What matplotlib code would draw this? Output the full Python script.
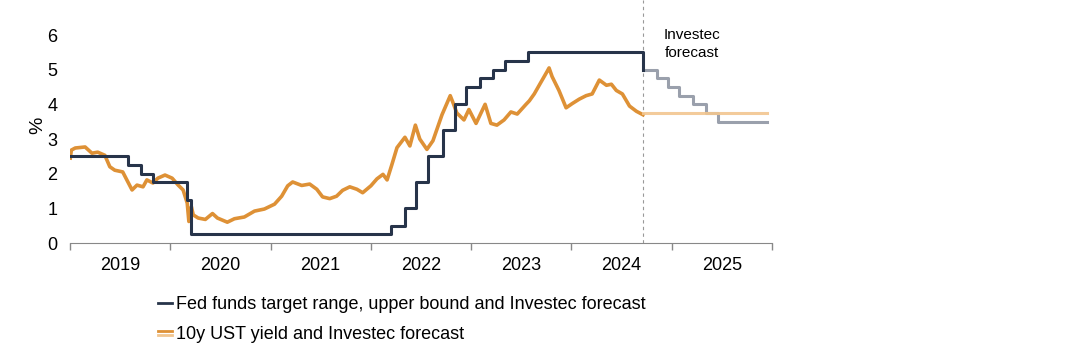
import numpy as np
import pandas as pd
import matplotlib
matplotlib.use('Agg')
import matplotlib.pyplot as plt
from matplotlib.lines import Line2D
from matplotlib.legend_handler import HandlerBase

plt.rcParams['font.family'] = ['Liberation Sans', 'DejaVu Sans']

# Fed funds target range, upper bound (step changes)
fed_dates = ['2019-01-01', '2019-07-31', '2019-09-18', '2019-10-30', '2020-03-03', '2020-03-15',
             '2022-03-16', '2022-05-04', '2022-06-15', '2022-07-27', '2022-09-21', '2022-11-02',
             '2022-12-14', '2023-02-01', '2023-03-22', '2023-05-03', '2023-07-26', '2024-09-18']
fed_values = [2.5, 2.25, 2.0, 1.75, 1.25, 0.25,
              0.5, 1.0, 1.75, 2.5, 3.25, 4.0,
              4.5, 4.75, 5.0, 5.25, 5.5, 5.0]

# Investec forecast for the Fed funds upper bound
fed_fc_dates = ['2024-09-18', '2024-11-07', '2024-12-18', '2025-01-29', '2025-03-19',
                '2025-05-07', '2025-06-18', '2025-12-15']
fed_fc_values = [5.0, 4.75, 4.5, 4.25, 4.0, 3.75, 3.5, 3.5]

# 10y UST yield
ust_dates = ['2019-01-02', '2019-01-06', '2019-01-20', '2019-02-25', '2019-03-22', '2019-04-12',
             '2019-05-08', '2019-05-26', '2019-06-13', '2019-07-12', '2019-07-27', '2019-08-15',
             '2019-09-02', '2019-09-24', '2019-10-08', '2019-10-30', '2019-11-17', '2019-12-13',
             '2020-01-08', '2020-01-30', '2020-02-17', '2020-03-03', '2020-03-09', '2020-03-18',
             '2020-03-25', '2020-04-12', '2020-05-08', '2020-06-03', '2020-06-21', '2020-07-27',
             '2020-08-22', '2020-09-27', '2020-11-03', '2020-12-09', '2021-01-15', '2021-02-10',
             '2021-03-04', '2021-03-22', '2021-04-24', '2021-05-23', '2021-06-18', '2021-07-09',
             '2021-08-04', '2021-08-29', '2021-09-20', '2021-10-16', '2021-11-11', '2021-12-02',
             '2022-01-01', '2022-01-23', '2022-02-14', '2022-03-01', '2022-03-18', '2022-04-06',
             '2022-05-05', '2022-05-23', '2022-06-12', '2022-06-28', '2022-07-24', '2022-08-15',
             '2022-09-17', '2022-10-17', '2022-10-27', '2022-11-10', '2022-12-06', '2022-12-24',
             '2023-01-19', '2023-02-21', '2023-03-14', '2023-04-05', '2023-05-01', '2023-05-26',
             '2023-06-18', '2023-07-20', '2023-08-01', '2023-08-19', '2023-09-06', '2023-10-05',
             '2023-10-12', '2023-10-23', '2023-11-17', '2023-12-13', '2024-01-04', '2024-01-30',
             '2024-02-24', '2024-03-17', '2024-04-12', '2024-05-08', '2024-05-26', '2024-06-13',
             '2024-07-05', '2024-07-31', '2024-08-25', '2024-09-18']
ust_values = [2.45, 2.68, 2.74, 2.77, 2.59, 2.62,
              2.53, 2.20, 2.10, 2.05, 1.82, 1.53,
              1.67, 1.62, 1.82, 1.73, 1.87, 1.96,
              1.87, 1.67, 1.53, 1.15, 0.62, 1.05,
              0.81, 0.72, 0.68, 0.85, 0.72, 0.60,
              0.70, 0.75, 0.92, 0.98, 1.12, 1.35,
              1.65, 1.76, 1.66, 1.70, 1.55, 1.33,
              1.28, 1.35, 1.52, 1.62, 1.55, 1.45,
              1.65, 1.85, 1.98, 1.82, 2.25, 2.75,
              3.05, 2.80, 3.40, 3.00, 2.70, 2.95,
              3.70, 4.25, 4.05, 3.75, 3.55, 3.85,
              3.45, 4.00, 3.45, 3.40, 3.55, 3.78,
              3.72, 4.00, 4.10, 4.30, 4.55, 4.95,
              5.05, 4.80, 4.40, 3.90, 4.02, 4.15,
              4.25, 4.30, 4.70, 4.55, 4.58, 4.40,
              4.30, 3.95, 3.80, 3.70]

ust_fc_dates = ['2024-09-18', '2025-12-15']
ust_fc_values = [3.75, 3.75]

years = list(range(2019, 2026))

navy = '#27344a'
grey = '#9aa0ac'
orange = '#de9136'
light_orange = '#f2c690'


class DoubleLine(HandlerBase):
    def create_artists(self, legend, orig_handle, xdescent, ydescent, width, height, fontsize, trans):
        x = [-xdescent, -xdescent + width]
        top = Line2D(x, [height * 0.62 - ydescent] * 2, color=orange, lw=2, transform=trans)
        bot = Line2D(x, [height * 0.25 - ydescent] * 2, color=light_orange, lw=2, transform=trans)
        return [top, bot]


fig = plt.figure(figsize=(10.88, 3.6), dpi=100)
ax = fig.add_axes([70 / 1088, 1 - 243 / 360, 702 / 1088, 208 / 360])

ax.plot(pd.to_datetime(ust_dates), ust_values, color=orange, lw=2.6, zorder=2)
ax.plot(pd.to_datetime(fed_dates), fed_values, color=navy, lw=2.2, drawstyle='steps-post', zorder=3)
ax.plot(pd.to_datetime(fed_fc_dates), fed_fc_values, color=grey, lw=2.2, drawstyle='steps-post', zorder=2)
ax.plot(pd.to_datetime(ust_fc_dates), ust_fc_values, color=light_orange, lw=2.2, alpha=0.9, zorder=3)

ax.axvline(pd.Timestamp('2024-09-18'), ymin=0, ymax=243 / 208, color='#999999', lw=0.8,
           ls=(0, (3, 3)), clip_on=False, zorder=1)

ax.set_xlim(pd.Timestamp('2019-01-01'), pd.Timestamp('2025-12-31'))
ax.set_ylim(0, 6)
ax.set_yticks(range(0, 7))
ax.tick_params(axis='y', length=0, labelsize=13, pad=9)
ax.set_ylabel('%', fontsize=14)
ax.yaxis.set_label_coords(-0.034, 0.567)

ax.set_xticks([pd.Timestamp(f'{y}-01-01') for y in years + [2026]])
ax.set_xticks([pd.Timestamp(f'{y}-07-02') for y in years], minor=True)
ax.set_xticklabels([])
ax.set_xticklabels([str(y) for y in years], minor=True)
ax.tick_params(axis='x', which='major', direction='out', length=5, color='#888888', width=1)
ax.tick_params(axis='x', which='minor', length=0, labelsize=13, pad=10)

for side in ['top', 'right', 'left']:
    ax.spines[side].set_visible(False)
ax.spines['bottom'].set_color('#888888')

fig.text(692 / 1088, 1 - 44 / 360, 'Investec\nforecast', ha='center', va='center',
         fontsize=11, linespacing=1.35)

h1 = Line2D([], [], color=navy, lw=2)
h2 = Line2D([], [], color=orange, lw=2)
fig.legend([h1, h2],
           ['Fed funds target range, upper bound and Investec forecast',
            '10y UST yield and Investec forecast'],
           handler_map={h2: DoubleLine()},
           loc='upper left', bbox_to_anchor=(158 / 1088, 1 - 296 / 360),
           frameon=False, fontsize=13, handlelength=0.75, handletextpad=0.25,
           labelspacing=0.7, borderpad=0, borderaxespad=0)

plt.savefig('out.png', dpi=100)
